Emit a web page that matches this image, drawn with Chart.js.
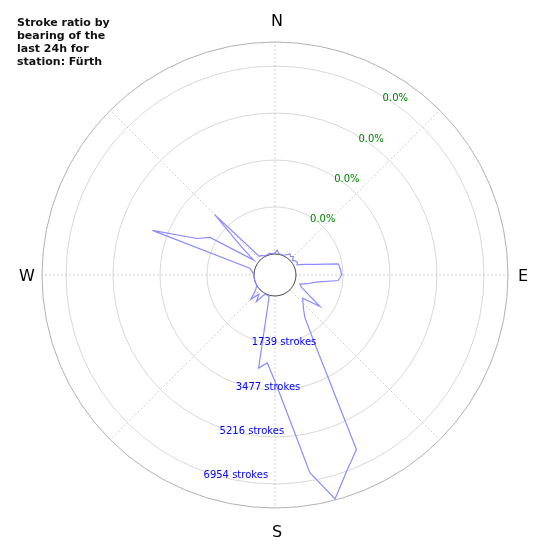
<!DOCTYPE html>
<html>
<head>
<meta charset="utf-8">
<script src="https://cdn.jsdelivr.net/npm/chart.js@4.4.0/dist/chart.umd.min.js"></script>
<style>
  body { margin: 0; background: #fff; }
</style>
</head>
<body>
<canvas id="myChart" width="550" height="550"></canvas>
<script>
// bearings in degrees, clockwise from north
const bearings = [0, 5, 10, 15, 20, 25, 30, 35, 40, 45, 50, 55,
  60, 65, 70, 75, 80, 85, 90, 95, 100, 105, 110, 115,
  120, 125, 130, 135, 140, 145, 150, 155, 160, 165, 170, 175,
  180, 185, 190, 195, 200, 205, 210, 215, 220, 225, 230, 235,
  240, 245, 250, 255, 260, 265, 270, 275, 280, 285, 290, 295,
  300, 305, 310, 315, 320, 325, 330, 335, 340, 345, 350, 355];

// strokes per bearing bin
const strokes = [40, 150, 30, 20, 20, 40, 90, 180, 120, 190, 60, 130,
  180, 120, 380, 750, 1600, 1650, 1690, 1570, 760, 470, 200, 310,
  625, 1260, 560, 690, 865, 1150, 2190, 6350, 6960, 7800, 6650, 4340,
  3160, 2490, 2720, 60, 30, 0, 100, 420, 150, 490, 200, 80,
  0, 0, 0, 0, 0, 0, 0, 40, 100, 190, 4050, 2420,
  2000, 185, 830, 2380, 120, 110, 40, 30, 30, 48, 30, 20];

const ringValues = [1739, 3477, 5216, 6954];
const ringLabels = ["1739 strokes", "3477 strokes", "5216 strokes", "6954 strokes"];
const ratioLabels = ["0.0%", "0.0%", "0.0%", "0.0%"];
const compassLabels = ["N", "E", "S", "W"];
const titleLines = ["Stroke ratio by", "bearing of the", "last 24h for", "station: Fürth"];

// value 0 sits on the edge of the inner hole
const rMin = -777;
const rMax = 7844;

function polarXY(s, bearing, dist) {
  const a = bearing * Math.PI / 180;
  return { x: s.xCenter + dist * Math.sin(a), y: s.yCenter - dist * Math.cos(a) };
}

const compassPlugin = {
  id: "compass",
  beforeDatasetsDraw(chart) {
    const s = chart.scales.r;
    const c = chart.ctx;
    const d0 = s.getDistanceFromCenterForValue(0);
    c.save();
    c.beginPath();
    c.arc(s.xCenter, s.yCenter, d0, 0, Math.PI * 2);
    c.fillStyle = "#fff";
    c.fill();
    c.strokeStyle = "#333";
    c.lineWidth = 0.9;
    c.stroke();
    c.restore();
  },
  afterDraw(chart) {
    const s = chart.scales.r;
    const c = chart.ctx;
    c.save();

    // compass letters
    c.font = "16px 'DejaVu Sans'";
    c.fillStyle = "#000";
    c.textAlign = "center";
    c.textBaseline = "middle";
    compassLabels.forEach((lab, i) => {
      const extra = i % 2 === 0 ? 22 : 15;
      const p = polarXY(s, i * 90, s.drawingArea + extra);
      c.fillText(lab, p.x + (i % 2 === 0 ? 2 : 0), p.y + (i === 2 ? 3 : 2));
    });

    // ring labels
    c.font = "10px 'DejaVu Sans'";
    c.textAlign = "left";
    ringValues.forEach((v, i) => {
      const d = s.getDistanceFromCenterForValue(v);
      let p = polarXY(s, 200, d);
      c.fillStyle = "#0000ff";
      c.fillText(ringLabels[i], p.x, p.y + 4);
      p = polarXY(s, 31, d);
      c.fillStyle = "#008000";
      c.fillText(ratioLabels[i], p.x, p.y + 3);
    });

    // title
    c.font = "bold 11px 'DejaVu Sans'";
    c.fillStyle = "#111";
    c.textBaseline = "alphabetic";
    titleLines.forEach((t, i) => {
      c.fillText(t, 17, 25.5 + i * 13);
    });
    c.restore();
  }
};

const ctx = document.getElementById("myChart").getContext("2d");
const myChart = new Chart(ctx, {
  type: "radar",
  data: {
    labels: bearings.map((b) => b + "°"),
    datasets: [
      {
        data: strokes,
        borderColor: "#8c8cff",
        borderWidth: 1.2,
        pointRadius: 0,
        fill: false,
        tension: 0,
      },
    ],
  },
  options: {
    responsive: false,
    animation: false,
    layout: { padding: 42 },
    plugins: {
      legend: { display: false },
      tooltip: { enabled: false },
    },
    scales: {
      r: {
        min: rMin,
        max: rMax,
        startAngle: 0,
        afterBuildTicks: (scale) => {
          scale.ticks = [rMin, 0, ...ringValues, rMax].map((v) => ({ value: v }));
        },
        ticks: { display: false },
        pointLabels: { display: false },
        grid: {
          circular: true,
          color: (c) => (c.tick.value === rMax ? "#a8a8a8" : c.tick.value > 0 ? "#d4d4d4" : "transparent"),
          lineWidth: 0.9,
        },
        angleLines: {
          color: "#c4c4c4",
          lineWidth: (c) => (c.index % 9 === 0 ? 0.8 : 0),
          borderDash: [2, 2],
        },
      },
    },
  },
  plugins: [compassPlugin],
});
</script>
</body>
</html>
